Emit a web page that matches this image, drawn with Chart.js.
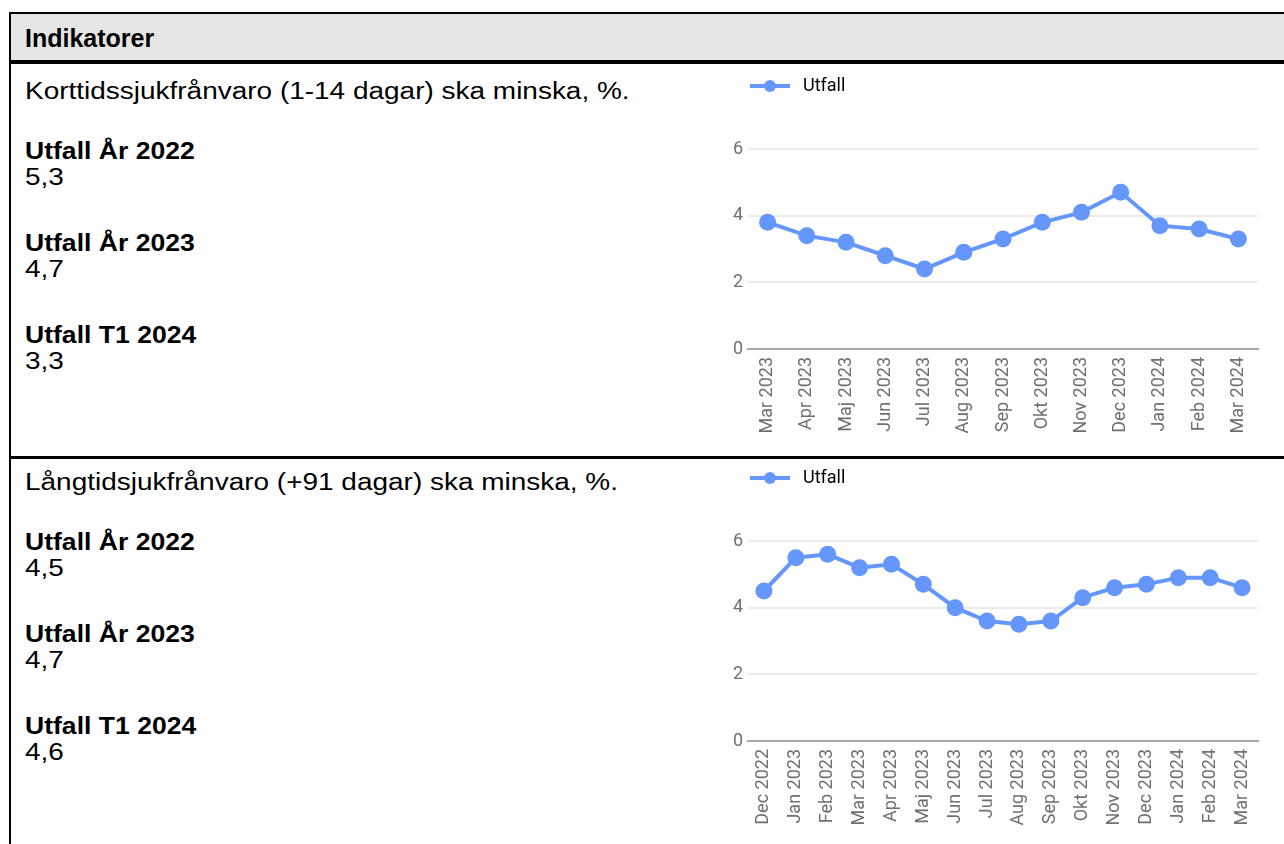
<!DOCTYPE html>
<html>
<head>
<meta charset="utf-8">
<script src="https://cdn.jsdelivr.net/npm/chart.js@4.4.1/dist/chart.umd.min.js"></script>
<style>
  html, body { margin: 0; padding: 0; background: #fff; width: 1284px; height: 844px; overflow: hidden; }
  .rule { position: absolute; background: #000; }
  .txt { position: absolute; left: 25px; font-family: "Liberation Sans", Arial, sans-serif; color: #000;
         font-size: 23.5px; line-height: 28px; white-space: nowrap;
         transform-origin: 0 50%; transform: scaleX(1.19); }
  .b { font-weight: bold; transform: scaleX(1.13); }
  .head { font-size: 25px; transform: none; }
  .chart { position: absolute; left: 720px; width: 560px; height: 384px; }
</style>
</head>
<body>
<!-- table frame -->
<div style="position:absolute;left:11px;top:14px;width:1290px;height:46px;background:#e6e6e6"></div>
<div class="rule" style="left:9px;top:12px;width:1290px;height:2px"></div>
<div class="rule" style="left:9px;top:12px;width:2px;height:840px"></div>
<div class="rule" style="left:9px;top:60px;width:1290px;height:4px"></div>
<div class="rule" style="left:9px;top:456px;width:1290px;height:3px"></div>

<div class="txt b head" style="top:24px">Indikatorer</div>

<div id="left1"></div>
<div id="left2"></div>

<div class="chart" style="top:65px"><canvas id="c1"></canvas></div>
<div class="chart" style="top:457px"><canvas id="c2"></canvas></div>

<script>
// Korttidssjukfrånvaro (1-14 dagar)
const months1 = ['Mar 2023','Apr 2023','Maj 2023','Jun 2023','Jul 2023','Aug 2023','Sep 2023',
                 'Okt 2023','Nov 2023','Dec 2023','Jan 2024','Feb 2024','Mar 2024'];
const utfall1 = [3.8, 3.4, 3.2, 2.8, 2.4, 2.9, 3.3, 3.8, 4.1, 4.7, 3.7, 3.6, 3.3];

// Långtidsjukfrånvaro (+91 dagar)
const months2 = ['Dec 2022','Jan 2023','Feb 2023','Mar 2023','Apr 2023','Maj 2023','Jun 2023','Jul 2023',
                 'Aug 2023','Sep 2023','Okt 2023','Nov 2023','Dec 2023','Jan 2024','Feb 2024','Mar 2024'];
const utfall2 = [4.5, 5.5, 5.6, 5.2, 5.3, 4.7, 4.0, 3.6, 3.5, 3.6, 4.3, 4.6, 4.7, 4.9, 4.9, 4.6];

const yTicks = [0, 2, 4, 6];

// Summary figures in the left column
const titles = ['Korttidssjukfrånvaro (1-14 dagar) ska minska, %.',
                'Långtidsjukfrånvaro (+91 dagar) ska minska, %.'];
const periodNames = ['Utfall År 2022', 'Utfall År 2023', 'Utfall T1 2024'];
const periodValues1 = ['5,3', '4,7', '3,3'];
const periodValues2 = ['4,5', '4,7', '4,6'];

function buildColumn(id, rowTop, title, values) {
  const host = document.getElementById(id);
  let html = `<div class="txt" style="top:${rowTop + 12}px">${title}</div>`;
  periodNames.forEach((name, i) => {
    const top = rowTop + 72 + i * 92;
    html += `<div class="txt b" style="top:${top}px">${name}</div>`;
    html += `<div class="txt" style="top:${top + 26}px">${values[i]}</div>`;
  });
  host.innerHTML = html;
}
buildColumn('left1', 65, titles[0], periodValues1);
buildColumn('left2', 456, titles[1], periodValues2);

const lineColor = 'rgb(100,150,252)';
const tickGrey = '#707070';
const chartFont = { family: 'Roboto', size: 18 };

// legend marker: short line with a dot, drawn slightly right of the image centre
function legendMarker() {
  const c = document.createElement('canvas');
  c.width = 80; c.height = 16;
  const g = c.getContext('2d');
  g.strokeStyle = lineColor; g.lineWidth = 4;
  g.beginPath(); g.moveTo(27, 8); g.lineTo(67, 8); g.stroke();
  g.fillStyle = lineColor;
  g.beginPath(); g.arc(47, 8, 6, 0, Math.PI * 2); g.fill();
  return c;
}
const marker = legendMarker();

// fixed legend block height so the plot starts at the same place in both charts
const legendBlock = {
  id: 'legendBlock',
  beforeInit(chart) {
    const fit = chart.legend.fit;
    chart.legend.fit = function () { fit.call(this); this.height = 84; };
  }
};

function makeChart(canvasId, labels, values) {
  return new Chart(document.getElementById(canvasId), {
    type: 'line',
    data: {
      labels: labels,
      datasets: [{
        label: 'Utfall',
        data: values,
        borderColor: lineColor,
        backgroundColor: lineColor,
        borderWidth: 4,
        pointRadius: 8.5,
        pointHoverRadius: 8.5,
        pointBorderWidth: 0,
        pointBackgroundColor: lineColor,
        tension: 0,
        clip: false
      }]
    },
    options: {
      responsive: true,
      maintainAspectRatio: false,
      animation: false,
      layout: { padding: { left: 0, right: 22, top: 0, bottom: 0 } },
      plugins: {
        legend: {
          display: true,
          position: 'top',
          align: 'start',
          labels: {
            usePointStyle: true,
            pointStyleWidth: 62,
            padding: 12,
            color: tickGrey,
            font: chartFont,
            generateLabels: (chart) => chart.data.datasets.map((ds, i) => ({
              text: ds.label, pointStyle: marker, fillStyle: lineColor,
              strokeStyle: lineColor, lineWidth: 0, datasetIndex: i, hidden: false
            }))
          }
        },
        tooltip: { enabled: false }
      },
      scales: {
        x: {
          offset: true,
          grid: { display: false, drawTicks: false },
          border: { display: true, color: '#a8a8a8', width: 2 },
          ticks: {
            color: tickGrey, font: chartFont,
            maxRotation: 90, minRotation: 90, padding: 8, autoSkip: false
          },
          afterFit(scale) { scale.height = 100; }
        },
        y: {
          min: 0, max: 6,
          afterBuildTicks(scale) { scale.ticks = yTicks.map(v => ({ value: v })); },
          grid: { color: '#ececec', lineWidth: 2, drawTicks: false },
          border: { display: false },
          ticks: { color: tickGrey, font: chartFont, padding: 5 },
          afterFit(scale) { scale.width = 28; }
        }
      }
    },
    plugins: [legendBlock]
  });
}

makeChart('c1', months1, utfall1);
makeChart('c2', months2, utfall2);
</script>
</body>
</html>
